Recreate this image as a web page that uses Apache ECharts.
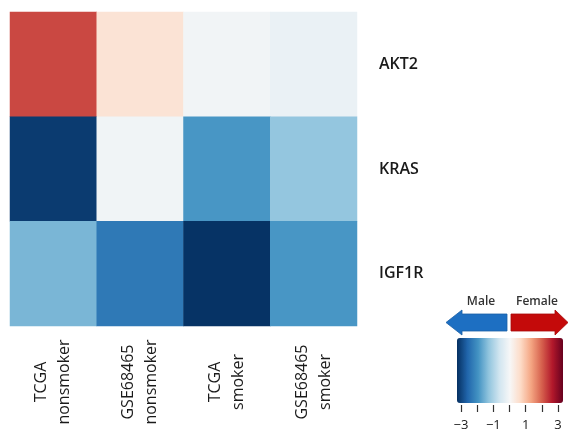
<!DOCTYPE html>
<html>
<head>
<meta charset="utf-8">
<script src="https://cdn.jsdelivr.net/npm/echarts@6/dist/echarts.min.js"></script>
<style>
  html, body { margin: 0; padding: 0; background: #ffffff; }
  #chart { width: 569px; height: 432px; }
</style>
</head>
<body>
<div id="chart"></div>
<script>
// Sample groups (columns) and genes (rows, top to bottom)
const samples = ['TCGA\nnonsmoker', 'GSE68465\nnonsmoker', 'TCGA\nsmoker', 'GSE68465\nsmoker'];
const genes = ['AKT2', 'KRAS', 'IGF1R'];

// Scaled expression per gene, one value per sample group
const akt2 = [2.0, 0.43, -0.1, -0.2];
const kras = [-2.88, -0.11, -1.76, -1.18];
const igf1r = [-1.38, -2.15, -2.97, -1.76];

// Colour scale range and the ticks printed under the colour bar
const scaleMin = -3;
const scaleMax = 3;
const scaleLabels = [-3, -1, 1, 3];

// Diverging blue-white-red palette, low to high
const palette = ['#053061', '#2166ac', '#4393c3', '#92c5de', '#d1e5f0', '#f7f7f7',
                 '#fddbc7', '#f4a582', '#d6604d', '#b2182b', '#67001f'];

const rows = [akt2, kras, igf1r];
const cells = [];
rows.forEach((vals, r) => {
  vals.forEach((v, c) => cells.push([c, r, v]));
});

const chart = echarts.init(document.getElementById('chart'), null, { renderer: 'canvas' });

const fontFamily = '"Open Sans", "Noto Sans", sans-serif';

chart.setOption({
  backgroundColor: '#ffffff',
  animation: false,
  grid: [
    { left: 10, top: 12, width: 347, height: 314 },
    { left: 461, top: 340, width: 97, height: 65 }
  ],
  xAxis: [
    {
      type: 'category',
      data: samples,
      gridIndex: 0,
      position: 'bottom',
      axisLine: { show: false },
      axisTick: { show: false },
      splitLine: { show: false },
      axisLabel: {
        rotate: 90,
        align: 'center',
        verticalAlign: 'middle',
        margin: 56,
        fontSize: 16,
        lineHeight: 23,
        color: '#1a1a1a',
        fontFamily: fontFamily
      }
    },
    {
      type: 'value',
      gridIndex: 1,
      min: scaleMin,
      max: scaleMax,
      interval: 1,
      position: 'bottom',
      axisLine: { show: false },
      axisTick: { show: true, length: 7, lineStyle: { color: '#333', width: 1.2 } },
      splitLine: { show: false },
      axisLabel: {
        margin: 14,
        fontSize: 13,
        color: '#1a1a1a',
        fontFamily: fontFamily,
        formatter: (v) => scaleLabels.indexOf(v) >= 0 ? String(v).replace('-', '\u2212') : ''
      }
    }
  ],
  yAxis: [
    {
      type: 'category',
      data: genes,
      inverse: true,
      gridIndex: 0,
      position: 'right',
      axisLine: { show: false },
      axisTick: { show: false },
      splitLine: { show: false },
      axisLabel: {
        margin: 22,
        fontSize: 16,
        fontWeight: 600,
        color: '#1a1a1a',
        fontFamily: fontFamily
      }
    },
    {
      type: 'value',
      gridIndex: 1,
      show: false,
      min: 0,
      max: 1
    }
  ],
  visualMap: {
    type: 'continuous',
    seriesIndex: 0,
    min: scaleMin,
    max: scaleMax,
    orient: 'horizontal',
    left: 457,
    top: 338,
    padding: 0,
    itemWidth: 65,
    itemHeight: 106,
    calculable: false,
    hoverLink: false,
    text: null,
    inRange: { color: palette }
  },
  series: [
    {
      type: 'heatmap',
      xAxisIndex: 0,
      yAxisIndex: 0,
      data: cells,
      itemStyle: { borderWidth: 0 },
      emphasis: { disabled: true },
      label: { show: false }
    }
  ],
  graphic: [
    // Direction arrows above the colour bar
    {
      type: 'polygon',
      shape: { points: [[446, 322.5], [462, 310], [462, 314], [507, 314], [507, 331], [462, 331], [462, 335]] },
      style: { fill: '#1d6fc2', stroke: '#1a5fa6', lineWidth: 0.8 }
    },
    {
      type: 'polygon',
      shape: { points: [[511, 314], [555, 314], [555, 310], [568, 322.5], [555, 335], [555, 331], [511, 331]] },
      style: { fill: '#c40a0a', stroke: '#a80808', lineWidth: 0.8 }
    },
    {
      type: 'text',
      x: 481, y: 302,
      style: { text: 'Male', fill: '#333', font: '600 12px ' + fontFamily, textAlign: 'center', textVerticalAlign: 'middle' }
    },
    {
      type: 'text',
      x: 537, y: 302,
      style: { text: 'Female', fill: '#333', font: '600 12px ' + fontFamily, textAlign: 'center', textVerticalAlign: 'middle' }
    }
  ]
});
</script>
</body>
</html>
